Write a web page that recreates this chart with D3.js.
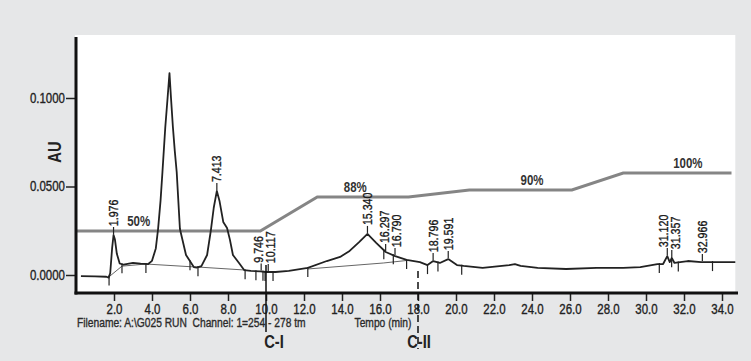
<!DOCTYPE html>
<html>
<head>
<meta charset="utf-8">
<script src="https://cdn.jsdelivr.net/npm/d3@7"></script>
<style>
  body { margin: 0; background: #e6e7e8; }
  svg { display: block; font-family: "Liberation Sans", Arial, sans-serif; }
  .heavy { stroke: #222; stroke-width: 0.35px; }
</style>
</head>
<body>
<svg id="chart"></svg>
<script>
// chromatogram trace: time (min), absorbance (AU)
var traceTime = [0.26, 1.0, 1.6, 1.72, 1.8, 1.9, 1.976, 2.05, 2.15, 2.3, 2.5, 3.0, 3.4, 3.8, 4.0, 4.2, 4.32, 4.45, 4.55, 4.7, 4.82, 4.92,
  5.0, 5.1, 5.2, 5.3, 5.47, 5.79, 6.2, 6.35, 6.6, 6.9, 7.1, 7.25, 7.413, 7.55, 7.75, 7.95, 8.1, 8.26, 8.58, 8.85, 9.2, 9.7, 10.0,
  10.5, 11.2, 12.2, 13.2, 13.9, 14.4, 14.9, 15.34, 15.8, 16.3, 16.8, 17.4, 18.1, 18.5, 18.8, 19.15, 19.591, 20.05, 20.4, 21.4,
  22.8, 23.1, 23.4, 24.3, 25.8, 27.4, 28.8, 29.7, 30.6, 30.9, 31.12, 31.25, 31.357, 31.5, 32.2, 32.9, 34.7];
var traceAU = [-0.0006, -0.0008, -0.0010, -0.0015, 0.0010, 0.0150, 0.0226, 0.0200, 0.0120, 0.0065, 0.0058, 0.0068, 0.0064, 0.0062, 0.0080, 0.0150, 0.0260, 0.0420, 0.0582, 0.0836, 0.1000, 0.1141,
  0.1000, 0.0836, 0.0700, 0.0582, 0.0260, 0.0113, 0.0045, 0.0042, 0.0050, 0.0113, 0.0254, 0.0380, 0.0475, 0.0420, 0.0300, 0.0266, 0.0200, 0.0113, 0.0068, 0.0028, 0.0023, 0.0020, 0.0017,
  0.0017, 0.0023, 0.0040, 0.0079, 0.0102, 0.0136, 0.0186, 0.0232, 0.0181, 0.0130, 0.0107, 0.0085, 0.0073, 0.0056, 0.0079, 0.0068, 0.0090, 0.0056, 0.0051, 0.0040,
  0.0056, 0.0062, 0.0051, 0.0040, 0.0034, 0.0040, 0.0040, 0.0045, 0.0062, 0.0062, 0.0107, 0.0073, 0.0096, 0.0068, 0.0079, 0.0073, 0.0073];

// integration baselines drawn under the peaks
var baseSegments = [
  [[1.74, -0.0010], [2.42, 0.0050], [3.68, 0.0062], [6.0, 0.0047], [6.42, 0.0045], [8.9, 0.0028]],
  [[12.2, 0.0034], [16.2, 0.0068], [17.4, 0.0082]]
];

// peak start / end marks
var dropTimes = [1.74, 2.42, 3.68, 6.0, 6.42, 8.9, 9.47, 9.84, 9.95, 10.37, 12.2, 16.2, 16.7, 17.4, 18.5, 19.05, 20.3, 30.7, 31.35, 31.7, 33.5];

// labelled retention times
var peakLabels = ['1.976', '7.413', '9.746', '10.117', '15.340', '16.297', '16.790', '18.796', '19.591', '31.120', '31.357', '32.966'];

// solvent gradient (level drawn on the AU scale)
var gradTime = [0, 9.7, 12.7, 17.5, 20.7, 26.1, 28.8, 34.5];
var gradLevel = [0.0249, 0.0249, 0.0441, 0.0441, 0.0480, 0.0480, 0.0576, 0.0576];
var gradLabelText = ['50%', '88%', '90%', '100%'];
var gradLabelTime = [3.3, 14.7, 24.0, 32.2];

var xTicks = [2, 4, 6, 8, 10, 12, 14, 16, 18, 20, 22, 24, 26, 28, 30, 32, 34];
var yTicks = [0, 0.05, 0.1];

var fractionLabels = ['C-I', 'C-II'];
var fractionTimes = [10.0, 18.0];

var width = 751, height = 361;
var narrow = 0.82; // condensed look

var x = d3.scaleLinear().domain([0, 34.7]).range([76, 735.3]);
var y = d3.scaleLinear().domain([0, 0.1]).range([275, 98]);

var trace = traceTime.map(function (t, i) { return { t: t, v: traceAU[i] }; });

function traceAt(t) {
  var i = d3.bisector(function (d) { return d.t; }).left(trace, t);
  if (i <= 0) return trace[0].v;
  if (i >= trace.length) return trace[trace.length - 1].v;
  var a = trace[i - 1], b = trace[i];
  return a.v + (b.v - a.v) * (t - a.t) / (b.t - a.t);
}

function gradAt(t) {
  for (var i = 1; i < gradTime.length; i++) {
    if (t <= gradTime[i]) {
      return gradLevel[i - 1] + (gradLevel[i] - gradLevel[i - 1]) * (t - gradTime[i - 1]) / (gradTime[i] - gradTime[i - 1]);
    }
  }
  return gradLevel[gradLevel.length - 1];
}

function placeText(sel, px, py) {
  return sel.attr('transform', 'translate(' + px + ',' + py + ') scale(' + narrow + ',1)');
}

var svg = d3.select('#chart')
  .attr('width', width)
  .attr('height', height);

svg.append('rect')
  .attr('width', width).attr('height', height)
  .attr('fill', '#e6e7e8');

// white plot panel
svg.append('rect')
  .attr('x', x(0) - 1).attr('y', 35)
  .attr('width', x(34.7) - x(0) + 1).attr('height', 293 - 35)
  .attr('fill', '#fff');

// gradient line
var gradLine = d3.line()
  .x(function (d, i) { return x(gradTime[i]); })
  .y(function (d) { return y(d); });

svg.append('path')
  .attr('d', gradLine(gradLevel))
  .attr('fill', 'none')
  .attr('stroke', '#858585')
  .attr('stroke-width', 3);

svg.append('g').selectAll('text')
  .data(gradLabelText)
  .enter().append('text')
  .each(function (d, i) {
    placeText(d3.select(this), x(gradLabelTime[i]), y(gradAt(gradLabelTime[i])) - 5);
  })
  .attr('text-anchor', 'middle')
  .attr('font-size', 14)
  .attr('font-weight', 'bold')
  .attr('fill', '#333')
  .text(function (d) { return d; });

// integration baselines
var line = d3.line()
  .x(function (d) { return x(d[0]); })
  .y(function (d) { return y(d[1]); });

svg.append('g').selectAll('path')
  .data(baseSegments)
  .enter().append('path')
  .attr('d', line)
  .attr('fill', 'none')
  .attr('stroke', '#666')
  .attr('stroke-width', 1);

// trace
var traceLine = d3.line()
  .x(function (d) { return x(d.t); })
  .y(function (d) { return y(d.v); });

svg.append('path')
  .attr('d', traceLine(trace))
  .attr('fill', 'none')
  .attr('stroke', '#222')
  .attr('stroke-width', 1.8)
  .attr('stroke-linejoin', 'round');

// drop marks
svg.append('g').selectAll('line')
  .data(dropTimes)
  .enter().append('line')
  .attr('x1', function (d) { return x(d); })
  .attr('x2', function (d) { return x(d); })
  .attr('y1', function (d) { return y(traceAt(d)) - 1; })
  .attr('y2', function (d) { return y(traceAt(d)) + 9; })
  .attr('stroke', '#222')
  .attr('stroke-width', 1.2);

// peak labels, text nudged apart where they would overlap
var peakPos = peakLabels.map(function (d) {
  var t = +d;
  return { label: d, px: x(t), tx: x(t), py: y(traceAt(t)) - 8 };
});
for (var k = 1; k < peakPos.length; k++) {
  var a = peakPos[k - 1], b = peakPos[k];
  if (b.tx - a.tx < 12) {
    var mid = (a.tx + b.tx) / 2;
    a.tx = mid - 6;
    b.tx = mid + 6;
  }
}

var peaks = svg.append('g').selectAll('g')
  .data(peakPos)
  .enter().append('g');

peaks.append('line')
  .attr('x1', function (d) { return d.px; })
  .attr('x2', function (d) { return d.px; })
  .attr('y1', function (d) { return d.py; })
  .attr('y2', function (d) { return d.py + 7; })
  .attr('stroke', '#222')
  .attr('stroke-width', 1.2);

peaks.append('text')
  .attr('class', 'heavy')
  .attr('transform', function (d) {
    return 'translate(' + d.tx + ',' + d.py + ') rotate(-90) scale(' + narrow + ',1)';
  })
  .attr('x', 1)
  .attr('dy', '0.35em')
  .attr('font-size', 13)
  .attr('fill', '#111')
  .text(function (d) { return d.label; });

// axes
var xAxis = d3.axisBottom(x).tickValues(xTicks).tickFormat(d3.format('.1f')).tickSize(8).tickPadding(3);
var yAxis = d3.axisLeft(y).tickValues(yTicks).tickFormat(d3.format('.4f')).tickSize(9).tickPadding(2);

var gx = svg.append('g')
  .attr('transform', 'translate(0,293)')
  .call(xAxis);
gx.select('.domain').remove();
gx.selectAll('.tick line').attr('stroke', '#222').attr('stroke-width', 1.5);
gx.selectAll('.tick text')
  .attr('class', 'heavy')
  .attr('font-size', 14).attr('font-family', null).attr('fill', '#222')
  .attr('transform', 'scale(' + narrow + ',1)');

var gy = svg.append('g')
  .attr('transform', 'translate(75,0)')
  .call(yAxis);
gy.select('.domain').remove();
gy.selectAll('.tick line').attr('stroke', '#222').attr('stroke-width', 1.5);
gy.selectAll('.tick text')
  .attr('class', 'heavy')
  .attr('font-size', 14).attr('font-family', null).attr('fill', '#222')
  .attr('x', null)
  .attr('transform', 'translate(-10,0) scale(' + narrow + ',1)');

svg.append('line')
  .attr('x1', 76).attr('x2', 76).attr('y1', 37).attr('y2', 294.5)
  .attr('stroke', '#111').attr('stroke-width', 3);
svg.append('line')
  .attr('x1', 74.5).attr('x2', 738).attr('y1', 293).attr('y2', 293)
  .attr('stroke', '#111').attr('stroke-width', 3);

svg.append('text')
  .attr('transform', 'translate(61,152) rotate(-90) scale(' + narrow + ',1)')
  .attr('text-anchor', 'middle')
  .attr('font-size', 18)
  .attr('font-weight', 'bold')
  .attr('fill', '#222')
  .text('AU');

placeText(svg.append('text'), 77, 327)
  .attr('class', 'heavy')
  .attr('font-size', 12.5)
  .attr('fill', '#333')
  .attr('xml:space', 'preserve')
  .text('Filename: A:\\G025 RUN  Channel: 1=254 - 278 tm');

placeText(svg.append('text'), 383, 327)
  .attr('class', 'heavy')
  .attr('text-anchor', 'middle')
  .attr('font-size', 12.5)
  .attr('fill', '#333')
  .text('Tempo (min)');

// fraction cuts
svg.append('line')
  .attr('x1', x(fractionTimes[0])).attr('x2', x(fractionTimes[0]))
  .attr('y1', 265).attr('y2', 332)
  .attr('stroke', '#111').attr('stroke-width', 1.5);
svg.append('line')
  .attr('x1', x(fractionTimes[1])).attr('x2', x(fractionTimes[1]))
  .attr('y1', 271).attr('y2', 349)
  .attr('stroke', '#111').attr('stroke-width', 1.5)
  .attr('stroke-dasharray', '7,4');

svg.append('g').selectAll('text')
  .data(fractionLabels)
  .enter().append('text')
  .each(function (d, i) {
    placeText(d3.select(this), x(fractionTimes[i]) + (i === 0 ? 8 : 1), 348);
  })
  .attr('text-anchor', 'middle')
  .attr('font-size', 18)
  .attr('font-weight', 'bold')
  .attr('fill', '#222')
  .text(function (d) { return d; });
</script>
</body>
</html>
